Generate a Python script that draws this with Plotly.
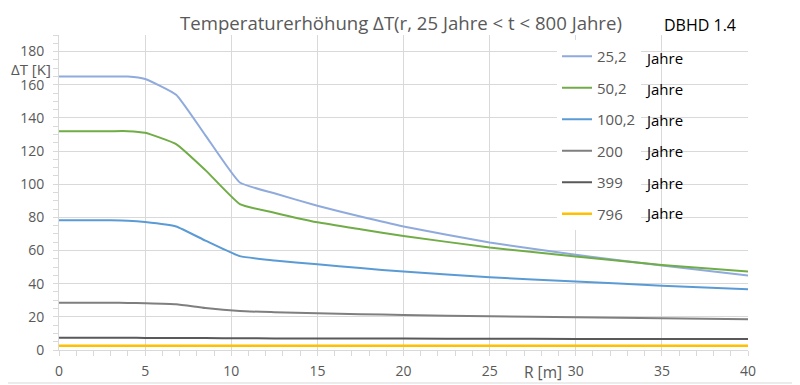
import plotly.graph_objects as go

r = [0, 1, 2, 3, 4, 5, 6.8, 8.5, 10.5, 12.5, 15, 17.5, 20, 25, 30, 35, 40]

dt_25 = [165, 165, 165, 165, 165, 163.5, 154, 129.5, 101, 94.5, 87, 80.5, 74.5, 64.8, 57.4, 51, 45]
dt_50 = [132, 132, 132, 132, 132, 131, 124.2, 108.5, 88, 82.8, 77, 72.8, 68.8, 61.8, 56.4, 51.3, 47.3]
dt_100 = [78.2, 78.2, 78.2, 78.2, 78, 77.2, 74.5, 66, 56.6, 54, 51.7, 49.4, 47.3, 43.9, 41.3, 38.8, 36.6]
dt_200 = [28.5, 28.5, 28.5, 28.5, 28.4, 28.2, 27.6, 25.3, 23.5, 22.8, 22.1, 21.6, 21.1, 20.3, 19.7, 19.1, 18.5]
dt_399 = [7.4, 7.4, 7.4, 7.4, 7.4, 7.3, 7.3, 7.2, 7.1, 7.0, 7.0, 6.9, 6.9, 6.8, 6.7, 6.7, 6.6]
dt_796 = [2.6, 2.6, 2.6, 2.6, 2.6, 2.6, 2.6, 2.6, 2.6, 2.6, 2.6, 2.6, 2.6, 2.6, 2.6, 2.6, 2.6]

series_names = ["25,2", "50,2", "100,2", "200", "399", "796"]
series_values = [dt_25, dt_50, dt_100, dt_200, dt_399, dt_796]
colors = ["#8faadc", "#70ad47", "#5b9bd5", "#7f7f7f", "#595959", "#ffc000"]
widths = [2, 2, 2, 2, 2, 2.5]

FONT = "Open Sans"
GRAY = "#595959"
GRID = "#d9d9d9"

fig = go.Figure()
for i, (name, vals) in enumerate(zip(series_names, series_values)):
    fig.add_trace(go.Scatter(
        x=r, y=vals, name=name, mode="lines",
        line=dict(color=colors[i], width=widths[i], shape="spline", smoothing=0.4),
        legendgroup=f"g{i}",
    ))

# the page has an 8px body margin; the figure starts at (8, 8) in the window
OFF = 8
FW, FH = 800 - OFF, 385 - OFF
L, T = 59 - OFF, 35 - OFF
R_ = FW - (748 - OFF)
B = FH - (350 - OFF)
W = FW - L - R_
H = FH - T - B

def px(xp):  # window pixel -> paper x
    return (xp - OFF - L) / W

def py(yp):  # window pixel -> paper y
    return (FH - B - (yp - OFF)) / H

annotations = []
jahre_y = [58.3, 89.3, 120, 150.7, 182.7, 213.3]
for yy in jahre_y:
    annotations.append(dict(xref="paper", yref="paper", x=px(643), y=py(yy),
                            xanchor="left", yanchor="middle", showarrow=False,
                            text="Jahre", font=dict(family=FONT, size=15, color="#000000")))
annotations.append(dict(xref="paper", yref="paper", x=px(700), y=py(25),
                        xanchor="center", yanchor="middle", showarrow=False,
                        text="DBHD 1.4", font=dict(family=FONT, size=16, color="#000000")))
annotations.append(dict(xref="paper", yref="paper", x=px(31), y=py(69),
                        xanchor="center", yanchor="middle", showarrow=False,
                        text="ΔT [K]", font=dict(family=FONT, size=15, color=GRAY)))
annotations.append(dict(xref="paper", yref="paper", x=px(543), y=py(372),
                        xanchor="center", yanchor="middle", showarrow=False,
                        text="R [m]", font=dict(family=FONT, size=15.5, color=GRAY)))

fig.update_layout(
    width=FW, height=FH,
    margin=dict(l=L, r=R_, t=T, b=B, autoexpand=False),
    paper_bgcolor="white", plot_bgcolor="white",
    font=dict(family=FONT, color=GRAY),
    title=dict(text="Temperaturerhöhung ΔT(r, 25 Jahre < t < 800 Jahre)",
               x=px(401), xref="paper", xanchor="center",
               y=1 - (23 - OFF) / FH, yanchor="middle",
               font=dict(family=FONT, size=18.6, color=GRAY)),
    showlegend=True,
    legend=dict(x=px(557), y=py(40), xanchor="left", yanchor="top",
                bgcolor="white", font=dict(family=FONT, size=15, color=GRAY),
                tracegroupgap=9, itemwidth=30),
    annotations=annotations,
    shapes=[
        dict(type="line", xref="paper", yref="paper", x0=px(798), x1=px(798),
             y0=py(383), y1=py(OFF), line=dict(color=GRID, width=1), layer="below"),
        dict(type="line", xref="paper", yref="paper", x0=px(OFF), x1=px(798),
             y0=py(383), y1=py(383), line=dict(color=GRID, width=1), layer="below"),
    ],
)

fig.update_xaxes(range=[0, 40], dtick=5, tick0=0, showgrid=True, gridcolor=GRID, gridwidth=1,
                 showline=True, linecolor=GRID, ticks="outside", ticklen=5, tickcolor=GRID,
                 tickfont=dict(family=FONT, size=14, color=GRAY), zeroline=False,
                 ticklabelstandoff=3, automargin=False,
                 minor=dict(dtick=1, ticks="outside", ticklen=5, tickcolor=GRID, showgrid=False))
fig.update_yaxes(range=[0, 190], tickvals=[0, 20, 40, 60, 80, 100, 120, 140, 160, 180],
                 showgrid=True, gridcolor=GRID, gridwidth=1,
                 showline=True, linecolor=GRID, ticks="outside", ticklen=5, tickcolor=GRID,
                 tickfont=dict(family=FONT, size=14, color=GRAY), zeroline=False,
                 ticklabelstandoff=6, automargin=False,
                 minor=dict(dtick=5, tick0=0, ticks="outside", ticklen=5, tickcolor=GRID, showgrid=False))

fig.write_html("out.html")
